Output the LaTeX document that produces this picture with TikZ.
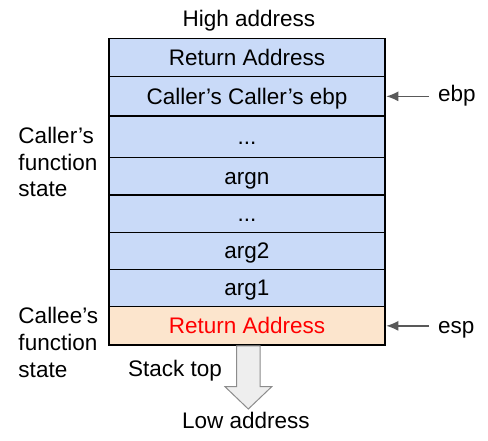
\documentclass[tikz,border=0pt]{standalone}
\usepackage{fontspec}
\setmainfont{Liberation Sans}
\usetikzlibrary{arrows.meta}
\definecolor{rowblue}{HTML}{C9DAF8}
\definecolor{rowpeach}{HTML}{FCE5CD}
\definecolor{arrgray}{HTML}{595959}
\definecolor{bigfill}{HTML}{EEEEEE}
\definecolor{bigline}{HTML}{8C8C8C}
\begin{document}
\begin{tikzpicture}[x=1pt,y=-1pt,
  lbl/.style={inner sep=0pt,font=\fontsize{22.5}{26.7}\selectfont},
  rowbox/.style={draw=black,line width=1.5pt,fill=rowblue,minimum width=276pt,
    inner sep=0pt,text height=15.5pt,text depth=0pt,font=\fontsize{22.5}{26.7}\selectfont},
  ptr/.style={draw=arrgray,line width=1.5pt,-{Latex[length=12pt,width=10pt]}}]
\useasboundingbox (0,0) rectangle (488,440);
% rows
\node[rowbox,minimum height=38.4pt] (r1) at (247,57.5) {Return Address};
\node[rowbox,minimum height=39.3pt] (r2) at (247,96.35) {Caller’s Caller’s ebp};
\node[rowbox,minimum height=41.7pt] (r3) at (247,136.85) {...};
\node[rowbox,minimum height=37.3pt] (r4) at (247,176.35) {argn};
\node[rowbox,minimum height=37.7pt] (r5) at (247,213.85) {...};
\node[rowbox,minimum height=36.6pt] (r6) at (247,251) {arg2};
\node[rowbox,minimum height=37.4pt] (r7) at (247,288) {arg1};
\node[rowbox,fill=rowpeach,text=red,minimum height=38.3pt] (r8) at (247,325.85) {Return Address};
% top/bottom labels
\node[lbl,anchor=base] (high) at (249,26.7) {High address};
\node[lbl,anchor=base] (low) at (246,428.3) {Low address};
\node[lbl,anchor=base west] (stacktop) at (128,376.7) {Stack top};
% left labels (base = last line)
\node[lbl,anchor=base west,align=left] (caller) at (18.3,196.7) {Caller’s\\function\\state};
\node[lbl,anchor=base west,align=left] (callee) at (18.3,377) {Callee’s\\function\\state};
% pointers
\node[lbl,anchor=base west] (ebp) at (438,101.7) {ebp};
\node[lbl,anchor=base west] (esp) at (438,333.3) {esp};
\draw[ptr,shorten <=9pt,shorten >=0.5pt] (ebp.west |- r2.east) -- (r2.east);
\draw[ptr,shorten <=9pt,shorten >=0.5pt] (esp.west |- r8.east) -- (r8.east);
% big downward arrow
\draw[bigline,fill=bigfill,line width=1pt,line join=miter]
  (236.7,345.8) -- (260,345.8) -- (260,386.7) -- (271.7,386.7) -- (248.3,409)
  -- (225,386.7) -- (236.7,386.7) -- cycle;
\end{tikzpicture}
\end{document}
